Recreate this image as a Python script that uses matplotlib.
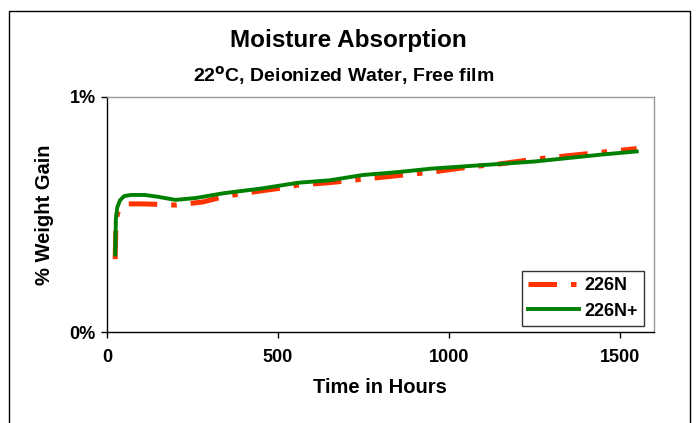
import matplotlib
matplotlib.use('Agg')
import matplotlib.pyplot as plt
from matplotlib.patches import Rectangle

plt.rcParams['font.family'] = ['Liberation Sans', 'DejaVu Sans']
plt.rcParams['font.weight'] = 'bold'

# 226N (red, dashed)
hours_n = [24, 26, 30, 38, 48, 60, 100, 150, 200, 280, 340, 400, 500, 560,
           650, 750, 850, 950, 1050, 1150, 1250, 1350, 1450, 1550]
gain_n = [0.31, 0.45, 0.50, 0.53, 0.54, 0.545, 0.545, 0.543, 0.54, 0.553,
          0.575, 0.59, 0.61, 0.625, 0.635, 0.65, 0.665, 0.68, 0.70, 0.715,
          0.735, 0.75, 0.765, 0.78]

# 226N+ (green, solid)
hours_np = [24, 26, 30, 38, 50, 70, 110, 150, 200, 260, 340, 450, 560, 650,
            750, 850, 950, 1050, 1150, 1250, 1350, 1450, 1550]
gain_np = [0.33, 0.48, 0.53, 0.56, 0.578, 0.583, 0.583, 0.575, 0.562, 0.57,
           0.59, 0.61, 0.635, 0.645, 0.668, 0.68, 0.695, 0.705, 0.715, 0.725,
           0.74, 0.755, 0.768]

fig = plt.figure(figsize=(6.97, 4.23), dpi=100)
fig.patch.set_facecolor('white')
ax = fig.add_axes([0.1535, 0.215, 0.7845, 0.556])

ax.plot(hours_n, gain_n, color='#FF3300', linewidth=3.6,
        dashes=(5.7, 2.8, 1.1, 2.8), dash_capstyle='butt', label='226N',
        zorder=3)
ax.plot(hours_np, gain_np, color='#008000', linewidth=2.8,
        label='226N+', zorder=4)

ax.set_xlim(0, 1600)
ax.set_ylim(0, 1)
ax.set_xticks([0, 500, 1000, 1500])
ax.set_yticks([0, 1])
ax.set_yticklabels(['0%', '1%'])
ax.tick_params(direction='out', length=4, width=1, labelsize=13)
ax.tick_params(axis='x', pad=8)
ax.tick_params(axis='y', pad=4)
for lbl in ax.get_xticklabels() + ax.get_yticklabels():
    lbl.set_fontweight('bold')

ax.spines['left'].set_color('black')
ax.spines['bottom'].set_color('black')
ax.spines['top'].set_color('#999999')
ax.spines['right'].set_color('#999999')
for s in ax.spines.values():
    s.set_linewidth(1)

ax.set_xlabel('Time in Hours', fontsize=14.5, fontweight='bold', labelpad=9)
ax.set_ylabel('% Weight Gain', fontsize=14.5, fontweight='bold', labelpad=11)

fig.text(0.5, 1 - 40 / 423, 'Moisture Absorption', ha='center', va='center',
         fontsize=17.5, fontweight='bold')
fig.text(0.493, 1 - 76 / 423, r'22$^{\mathbf{o}}$C, Deionized Water, Free film',
         ha='center', va='center', fontsize=14, fontweight='bold')

leg = ax.legend(loc='lower right', bbox_to_anchor=(0.982, 0.026),
                borderaxespad=0, fancybox=False, edgecolor='black',
                prop={'weight': 'bold', 'size': 13}, handlelength=2.8,
                handletextpad=0.3, labelspacing=0.45, borderpad=0.35)
leg.get_frame().set_linewidth(1)

# outer chart frame
fig.patches.append(Rectangle((0.013, -0.05), 0.977, 1.024,
                             transform=fig.transFigure, fill=False,
                             edgecolor='black', linewidth=1))

fig.savefig('out.png', dpi=100)
